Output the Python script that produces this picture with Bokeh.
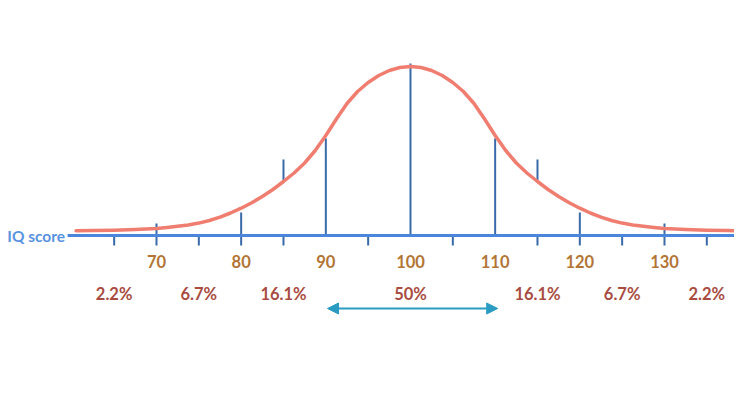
from bokeh.plotting import figure
from bokeh.models import Arrow, NormalHead, Range1d
from bokeh.core.properties import value
from bokeh.embed import file_html
from bokeh.resources import INLINE

# ---- data ----
curve_iq = [60.5, 62.5, 65, 67.5, 70, 71.25, 72.5, 73.75, 75, 76.25, 77.5, 78.75,
            80, 81.25, 82.5, 83.75, 85, 86.25, 87.5, 88.75, 90, 91.25, 92.5, 93.75,
            95, 96.25, 97.5, 98.75, 100,
            101.25, 102.5, 103.75, 105, 106.25, 107.5, 108.75, 110, 111.25, 112.5,
            113.75, 115, 116.25, 117.5, 118.75, 120, 121.25, 122.5, 123.75, 125,
            126.25, 127.5, 128.75, 130, 132.5, 135, 137.5, 139.5]
curve_h = [4.7, 4.9, 5.2, 5.9, 7, 8, 9.2, 10.6, 12.4, 15, 18.4, 22.5,
           27.3, 32.8, 39, 46, 54, 62.5, 72.5, 85, 100, 116.5, 132, 144,
           153, 160, 165, 168, 169,
           168, 165, 160, 153, 144, 132, 116.5, 100, 85, 72.5,
           62.5, 54, 46, 39, 32.8, 27.3, 22.5, 18.4, 15, 12.4,
           10.6, 9.2, 8, 7, 5.9, 5.2, 4.9, 4.7]

score_labels = ["70", "80", "90", "100", "110", "120", "130"]
score_values = [70, 80, 90, 100, 110, 120, 130]

pct_labels = ["2.2%", "6.7%", "16.1%", "50%", "16.1%", "6.7%", "2.2%"]
pct_pos = [65, 75, 85, 100, 115, 125, 135]

marker_iq = [70, 80, 90, 100, 110, 120, 130, 85, 115]
marker_top = [12, 23, 97, 172, 97, 23, 12, 76, 76]
marker_bottom = [-10, -10, 0, 0, 0, -10, -10, 53, 53]

minor_iq = [65, 75, 85, 95, 105, 115, 125, 135]

axis_span = [59.5, 140.0]
arrow_span = [90.2, 110.3]

# ---- figure ----
p = figure(width=734, height=377, x_range=Range1d(51.575, 138.27),
           y_range=Range1d(-142, 235), output_backend="svg",
           toolbar_location=None, min_border=0,
           x_axis_location=None, y_axis_location=None)
p.grid.visible = False
p.outline_line_color = None
p.background_fill_color = "white"

tick_color = "#3a6aa8"
axis_color = "#4a86dc"

# minor ticks below axis
p.segment(x0=minor_iq, y0=[0] * len(minor_iq), x1=minor_iq, y1=[-10] * len(minor_iq),
          line_color=tick_color, line_width=2)
# vertical markers
p.segment(x0=marker_iq, y0=marker_bottom, x1=marker_iq, y1=marker_top,
          line_color=tick_color, line_width=2)

# axis line
p.segment(x0=[axis_span[0]], y0=[0], x1=[axis_span[1]], y1=[0],
          line_color=axis_color, line_width=3)

# bell curve
p.line(curve_iq, curve_h, line_color="#ef7e70", line_width=3.5,
       line_join="round", line_cap="round")

# labels
p.text(x=[axis_span[0] - 0.3], y=[0], text=["IQ score"], text_align="right",
       text_baseline="middle", text_color="#5a93e0", text_font_size="15.5px",
       text_font=value("Lato"), text_font_style="bold")

p.text(x=score_values, y=[-26] * len(score_values), text=score_labels,
       text_align="center", text_baseline="middle", text_color="#b27535",
       text_font_size="16.5px", text_font=value("Lato"), text_font_style="bold")

p.text(x=pct_pos, y=[-58] * len(pct_pos), text=pct_labels,
       text_align="center", text_baseline="middle", text_color="#a84c42",
       text_font_size="16.5px", text_font=value("Lato"), text_font_style="bold")

arrow_color = "#2a9cc2"
p.add_layout(Arrow(start=NormalHead(size=11, fill_color=arrow_color, line_color=arrow_color),
                   end=NormalHead(size=11, fill_color=arrow_color, line_color=arrow_color),
                   x_start=arrow_span[0], y_start=-73, x_end=arrow_span[1], y_end=-73,
                   line_color=arrow_color, line_width=2))

open("out.html", "w").write(file_html(p, INLINE))
